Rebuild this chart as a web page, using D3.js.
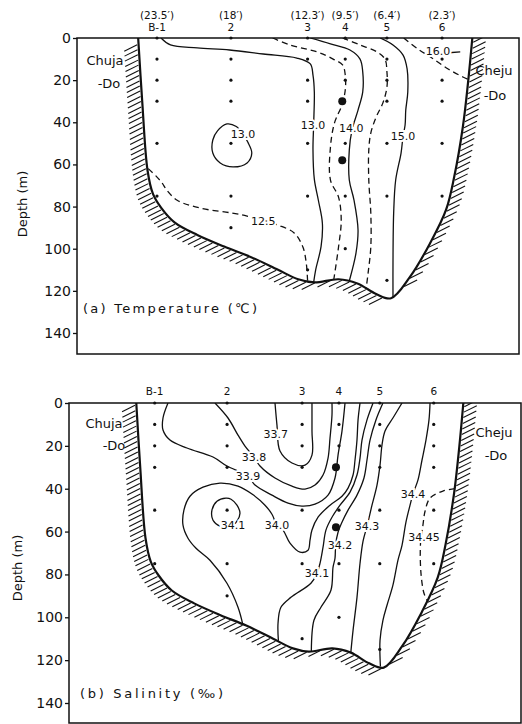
<!DOCTYPE html>
<html>
<head>
<meta charset="utf-8">
<title>Temperature and salinity section between Chuja-Do and Cheju-Do</title>
<script src="https://cdnjs.cloudflare.com/ajax/libs/d3/7.8.5/d3.min.js"></script>
<style>
  body { margin: 0; background: #fff; }
  svg { display: block; }
  text { font-family: "DejaVu Sans", sans-serif; fill: #111; }
</style>
</head>
<body>
<svg id="chart" width="522" height="724"></svg>
<script>
// stations: name, distance from Cheju-Do (nautical miles)
var stationNames = ["B-1", "2", "3", "4", "5", "6"];
var stationDist = [23.5, 18, 12.3, 9.5, 6.4, 2.3];
var stationDistLabels = ["(23.5\u2032)", "(18\u2032)", "(12.3\u2032)", "(9.5\u2032)", "(6.4\u2032)", "(2.3\u2032)"];
// sampling depths (m) per station
var sampleDepths = [
  [0, 10, 20, 30, 50, 75],
  [0, 10, 20, 30, 50, 75, 90],
  [0, 10, 20, 30, 50, 75, 110],
  [0, 10, 20, 50, 75, 100],
  [0, 10, 20, 30, 50, 75, 115],
  [0, 10, 20, 30, 50, 75]
];
var mooringDepths = [30, 58];   // big dots at station 4
var depthTicks = [0, 20, 40, 60, 80, 100, 120, 140];

// sea bed, [distance nm, depth m], Chuja-Do side to Cheju-Do side
var bottomProfile = [[24.9, 0], [24.6, 30], [24.2, 63], [23.8, 74], [23.2, 80.5], [22.2, 87.5],
  [20.5, 93.5], [18.5, 99], [16.5, 104], [14.5, 110], [13.0, 114.5], [11.8, 116], [10.0, 114.5],
  [8.6, 116.5], [7.2, 121.5], [6.1, 123.5], [4.7, 113.5], [3.2, 97.5], [2.0, 81.5], [1.4, 66],
  [0.75, 42], [0.35, 20], [0.05, 0]];

// isotherms (deg C)
var t125 = [[24.15, 62], [23.5, 66], [23.1, 69], [22.8, 72], [22.0, 77], [20.3, 80.7], [17.9, 83.1],
  [16.8, 84.5], [15.6, 86.5], [14.5, 88.8], [13.3, 92.5], [12.65, 99.2], [12.4, 106.8], [12.3, 115.4]];
var t130 = [[23.2, 0], [22.5, 3.3], [20.5, 4.7], [18.1, 5.7], [15.6, 7.6], [13.1, 9.5], [12.1, 12.3],
  [11.9, 17.6], [11.8, 25.6], [11.85, 41], [11.9, 53], [11.8, 67], [11.5, 77], [11.2, 88], [11.3, 99],
  [11.7, 110], [11.85, 116]];
var t130loop = [[18.3, 40.8], [19.0, 44.1], [19.35, 48.4], [19.35, 54.6], [18.8, 59.3], [17.85, 61.2],
  [16.8, 59.3], [16.45, 54.6], [16.75, 49.4], [17.1, 45.6], [17.6, 42]];
var t135 = [[14.9, 0], [13.6, 3.3], [11.6, 6.6], [10.4, 10], [9.7, 12.8], [9.5, 17.6], [9.5, 24.7],
  [9.75, 31.8], [10.3, 40.3], [10.6, 51.7], [10.6, 67.4], [10.0, 75.5], [9.8, 86.4], [10.0, 99.2], [10.35, 114.5]];
var t140 = [[12.1, 0], [10.6, 2.8], [9.15, 5.7], [8.4, 10], [8.2, 16.1], [8.2, 25.6], [8.55, 34.2],
  [9.0, 43.7], [9.2, 53.2], [9.2, 67.4], [8.85, 76.9], [8.55, 91.1], [8.7, 102], [9.2, 115.3]];
var t145 = [[9.7, 0], [8.4, 3.3], [7.15, 6.6], [6.55, 10], [6.4, 16.1], [6.4, 23.3], [6.7, 30.8],
  [7.2, 37.5], [7.6, 45.1], [7.75, 53.2], [7.75, 67.4], [7.6, 83.1], [7.6, 99.2], [7.8, 111.5], [7.95, 119]];
var t150 = [[6.9, 0], [5.95, 3.3], [5.2, 8.1], [4.9, 14.7], [4.85, 25.6], [5.0, 34.2], [5.05, 41.3],
  [5.2, 46.5], [5.35, 54.6], [5.75, 67.4], [5.9, 83.1], [5.95, 106.8], [5.95, 123.3]];
var t160 = [[5.15, 0], [4.1, 5.2], [3.05, 9.5], [1.85, 14.7], [0.75, 18.5], [0.4, 19.5]];
var t160leader = [[1.8, 7.0], [0.95, 6.6]];

// isohalines (per mil)
var s337 = [[14.36, 0], [14.21, 10.3], [13.98, 22.4], [13.07, 28.0], [12.08, 29.0], [11.55, 24.3],
  [11.55, 13.1], [11.55, 0]];
var s338 = [[18.92, 0], [17.93, 7.0], [17.17, 15.0], [16.64, 20.1], [15.96, 25.2], [15.5, 29.4],
  [14.36, 35.0], [13.07, 38.8], [12.08, 40.2], [11.32, 38.3], [10.71, 33.6], [10.33, 25.7],
  [10.18, 16.4], [10.03, 5.6], [10.03, 0]];
var s339 = [[22.49, 0], [22.87, 7.0], [22.87, 12.6], [22.34, 17.3], [21.05, 21.0], [19.07, 25.2],
  [18.01, 29.4], [16.41, 34.1], [15.88, 38.3], [14.59, 43.0], [13.37, 46.7], [12.31, 48.1],
  [11.32, 47.2], [10.33, 43.0], [9.8, 35.0], [9.57, 24.3], [9.27, 13.1], [9.04, 0]];
var s340 = [[16.8, 103.5], [17.17, 95.3], [18.01, 84.1], [19.3, 73.4], [20.36, 67.8], [20.97, 63.1],
  [21.35, 57.0], [21.28, 50.0], [20.82, 43.5], [19.83, 39.3], [18.54, 37.4], [17.17, 38.8],
  [16.11, 42.5], [15.12, 47.7], [14.59, 51.9], [14.21, 57.0], [13.75, 59.3], [13.22, 65.4],
  [12.46, 69.6], [11.85, 68.7], [11.7, 64.0], [11.55, 59.3], [11.09, 53.3], [10.18, 47.7],
  [9.27, 43.5], [8.81, 39.7], [8.43, 33.6], [8.28, 26.6], [8.13, 17.3], [8.05, 7.9], [7.9, 0]];
var s341loop = [[18.09, 44.4], [18.77, 45.8], [19.15, 50.0], [19.07, 54.7], [18.54, 57.5], [17.86, 58.4],
  [17.25, 55.1], [17.02, 51.4], [17.25, 47.7], [17.7, 44.9]];
var s341 = [[6.91, 0], [7.37, 7.9], [7.75, 17.3], [7.9, 25.7], [8.13, 33.6], [8.66, 41.6], [9.42, 47.7],
  [10.03, 53.3], [10.49, 59.3], [10.71, 67.3], [10.94, 74.8], [11.17, 79.4], [11.63, 84.1],
  [13.15, 90.7], [13.91, 95.3], [14.13, 102.8], [14.1, 111]];
var s342 = [[6.16, 0], [6.69, 7.9], [7.14, 17.3], [7.37, 26.6], [7.6, 35.0], [8.13, 43.0], [8.81, 50.0],
  [9.27, 55.6], [9.57, 60.3], [9.75, 66], [9.8, 72.4], [9.95, 76.6], [10.11, 87.4], [10.87, 95.3],
  [11.4, 101.4], [11.6, 116]];
var s343 = [[4.71, 0], [5.4, 7.0], [6.0, 13.1], [6.23, 19.6], [6.38, 29.0], [6.61, 38.3], [6.99, 47.7],
  [7.37, 57.5], [7.67, 64.5], [7.9, 74.8], [8.13, 90.7], [8.43, 106.1], [8.6, 116.5]];
var s344 = [[2.58, 0], [2.66, 7.9], [2.89, 17.3], [3.19, 26.6], [3.5, 36.0], [3.88, 42.5], [4.1, 47.7],
  [4.41, 55.6], [4.71, 66.4], [5.02, 73.4], [5.4, 85.0], [5.85, 94.4], [6.16, 101.4], [6.38, 110.7], [6.35, 123]];
var s3445 = [[0.7, 40], [1.6, 41.1], [2.58, 44.4], [2.96, 50.5], [3.12, 57], [3.3, 65], [3.27, 79.4],
  [3.04, 88.8], [2.8, 92.2]];

var tempLines = [
  { pts: t125, dashed: true }, { pts: t130 }, { pts: t130loop, closed: true },
  { pts: t135, dashed: true }, { pts: t140 }, { pts: t145, dashed: true },
  { pts: t150 }, { pts: t160, dashed: true }, { pts: t160leader }
];
var tempLabels = [
  { text: "12.5", at: [15.6, 87] }, { text: "13.0", at: [11.9, 41.3] }, { text: "13.0", at: [17.1, 45.6] },
  { text: "14.0", at: [9.05, 42.7] }, { text: "15.0", at: [5.2, 46.5] }, { text: "16.0", at: [2.6, 6.2] }
];
var salLines = [
  { pts: s337 }, { pts: s338 }, { pts: s339 }, { pts: s340 }, { pts: s341loop, closed: true },
  { pts: s341 }, { pts: s342 }, { pts: s343 }, { pts: s344 }, { pts: s3445, dashed: true }
];
var salLabels = [
  { text: "33.7", at: [14.3, 14.5] }, { text: "33.8", at: [15.95, 25.2] }, { text: "33.9", at: [16.41, 34.1] },
  { text: "34.1", at: [17.55, 57.0] }, { text: "34.0", at: [14.21, 57.0] }, { text: "34.1", at: [11.17, 79.4] },
  { text: "34.2", at: [9.42, 66.4] }, { text: "34.3", at: [7.37, 57.5] }, { text: "34.4", at: [3.88, 42.5] },
  { text: "34.45", at: [3.04, 62.6] }
];

var svg = d3.select("#chart");
var ink = "#111";

function drawPanel(p) {
  var g = svg.append("g");
  var x = p.x, y = p.y;

  g.append("clipPath").attr("id", "clip-" + p.key)
    .append("rect").attr("x", p.left).attr("y", p.top)
    .attr("width", p.right - p.left).attr("height", p.bottom - p.top);

  // frame
  g.append("rect").attr("x", p.left).attr("y", p.top)
    .attr("width", p.right - p.left).attr("height", p.bottom - p.top)
    .attr("fill", "none").attr("stroke", ink).attr("stroke-width", 1.5);

  // depth axis
  var ax = g.append("g").attr("transform", "translate(" + p.left + ",0)")
    .call(d3.axisLeft(y).tickValues(depthTicks).tickSize(4).tickPadding(2).tickFormat(d3.format("d")));
  ax.select(".domain").remove();
  ax.selectAll("line").attr("stroke", ink).attr("stroke-width", 1.3);
  ax.selectAll("text").style("font-size", "14px").attr("fill", ink);

  g.append("text").attr("transform", "translate(" + p.ylabX + "," + p.ylabY + ") rotate(-90)")
    .attr("text-anchor", "middle").style("font-size", "13px").text("Depth (m)");

  // sea bed and hatching
  var inner = g.append("g").attr("clip-path", "url(#clip-" + p.key + ")");
  var bedLine = d3.line().x(function(d) { return x(d[0]); }).y(function(d) { return y(d[1]); })
    .curve(d3.curveCatmullRom.alpha(0.5));
  var bed = inner.append("path").attr("d", bedLine(bottomProfile))
    .attr("fill", "none").attr("stroke", ink).attr("stroke-width", 2.2);
  var node = bed.node(), len = node.getTotalLength(), pts = [];
  for (var l = 0; l <= len; l += 0.5) {
    var q = node.getPointAtLength(l);
    pts.push([q.x, q.y]);
  }
  var dir = [0.894, -0.447], nrm = [0.447, 0.894], gap = 4.8, hl = 16, last = null;
  pts.forEach(function(pt) {
    var k = Math.floor((pt[0] * nrm[0] + pt[1] * nrm[1]) / gap);
    if (last !== null && k !== last) {
      var s = d3.polygonContains(pts, [pt[0] + dir[0] * 3, pt[1] + dir[1] * 3]) ? -1 : 1;
      inner.append("line")
        .attr("x1", pt[0] + s * dir[0] * 1.5).attr("y1", pt[1] + s * dir[1] * 1.5)
        .attr("x2", pt[0] + s * dir[0] * hl).attr("y2", pt[1] + s * dir[1] * hl)
        .attr("stroke", ink).attr("stroke-width", 1.1);
    }
    last = k;
  });

  // contours
  var open = d3.line().x(function(d) { return x(d[0]); }).y(function(d) { return y(d[1]); })
    .curve(d3.curveCatmullRom.alpha(0.5));
  var closed = d3.line().x(function(d) { return x(d[0]); }).y(function(d) { return y(d[1]); })
    .curve(d3.curveCatmullRomClosed.alpha(0.5));
  p.lines.forEach(function(c) {
    inner.append("path").attr("d", (c.closed ? closed : open)(c.pts))
      .attr("fill", "none").attr("stroke", ink).attr("stroke-width", 1.3)
      .attr("stroke-dasharray", c.dashed ? "6,4" : null);
  });

  // sample points
  stationDist.forEach(function(d, i) {
    sampleDepths[i].forEach(function(z) {
      g.append("circle").attr("cx", x(d)).attr("cy", y(z)).attr("r", 1.6).attr("fill", ink);
    });
  });
  mooringDepths.forEach(function(z) {
    g.append("circle").attr("cx", x(stationDist[3]) - 3).attr("cy", y(z)).attr("r", 4).attr("fill", ink);
  });

  // contour labels with white halo to break the line
  p.labels.forEach(function(lb) {
    g.append("text").attr("x", x(lb.at[0])).attr("y", y(lb.at[1])).attr("dy", "0.36em")
      .attr("text-anchor", "middle").style("font-size", "11px")
      .attr("stroke", "#fff").attr("stroke-width", 4).attr("paint-order", "stroke")
      .text(lb.text);
  });

  // station header
  stationNames.forEach(function(nm, i) {
    g.append("text").attr("x", x(stationDist[i])).attr("y", p.nameY)
      .attr("text-anchor", "middle").style("font-size", "10.5px").text(nm);
    if (p.showDist) {
      g.append("text").attr("x", x(stationDist[i])).attr("y", p.nameY - 12)
        .attr("text-anchor", "middle").style("font-size", "10.5px").text(stationDistLabels[i]);
    }
  });

  // shore names
  p.shore.forEach(function(s) {
    g.append("text").attr("x", s[0]).attr("y", s[1]).attr("text-anchor", "middle")
      .style("font-size", "13px").text(s[2]);
  });

  g.append("text").attr("x", p.titleX).attr("y", p.titleY).style("font-size", "13px")
    .attr("textLength", p.titleW).attr("lengthAdjust", "spacing").text(p.title);
}

drawPanel({
  key: "a",
  x: d3.scaleLinear().domain([0, 23.5]).range([473, 157]),
  y: d3.scaleLinear().domain([0, 140]).range([38, 333]),
  left: 77, right: 519, top: 38, bottom: 354,
  ylabX: 27, ylabY: 204,
  nameY: 31, showDist: true,
  shore: [[105, 65, "Chuja"], [109, 88, "-Do"], [494, 75, "Cheju"], [495, 100, "-Do"]],
  title: "(a) Temperature (\u2103)", titleX: 83, titleY: 313, titleW: 174,
  lines: tempLines, labels: tempLabels
});

drawPanel({
  key: "b",
  x: d3.scaleLinear().domain([0, 23.5]).range([464, 154.7]),
  y: d3.scaleLinear().domain([0, 140]).range([403, 703]),
  left: 69, right: 521, top: 403, bottom: 723,
  ylabX: 22, ylabY: 568,
  nameY: 395, showDist: false,
  shore: [[104, 428, "Chuja"], [114, 450, "-Do"], [494, 437, "Cheju"], [496, 460, "-Do"]],
  title: "(b) Salinity (\u2030)", titleX: 80, titleY: 698, titleW: 143,
  lines: salLines, labels: salLabels
});
</script>
</body>
</html>
